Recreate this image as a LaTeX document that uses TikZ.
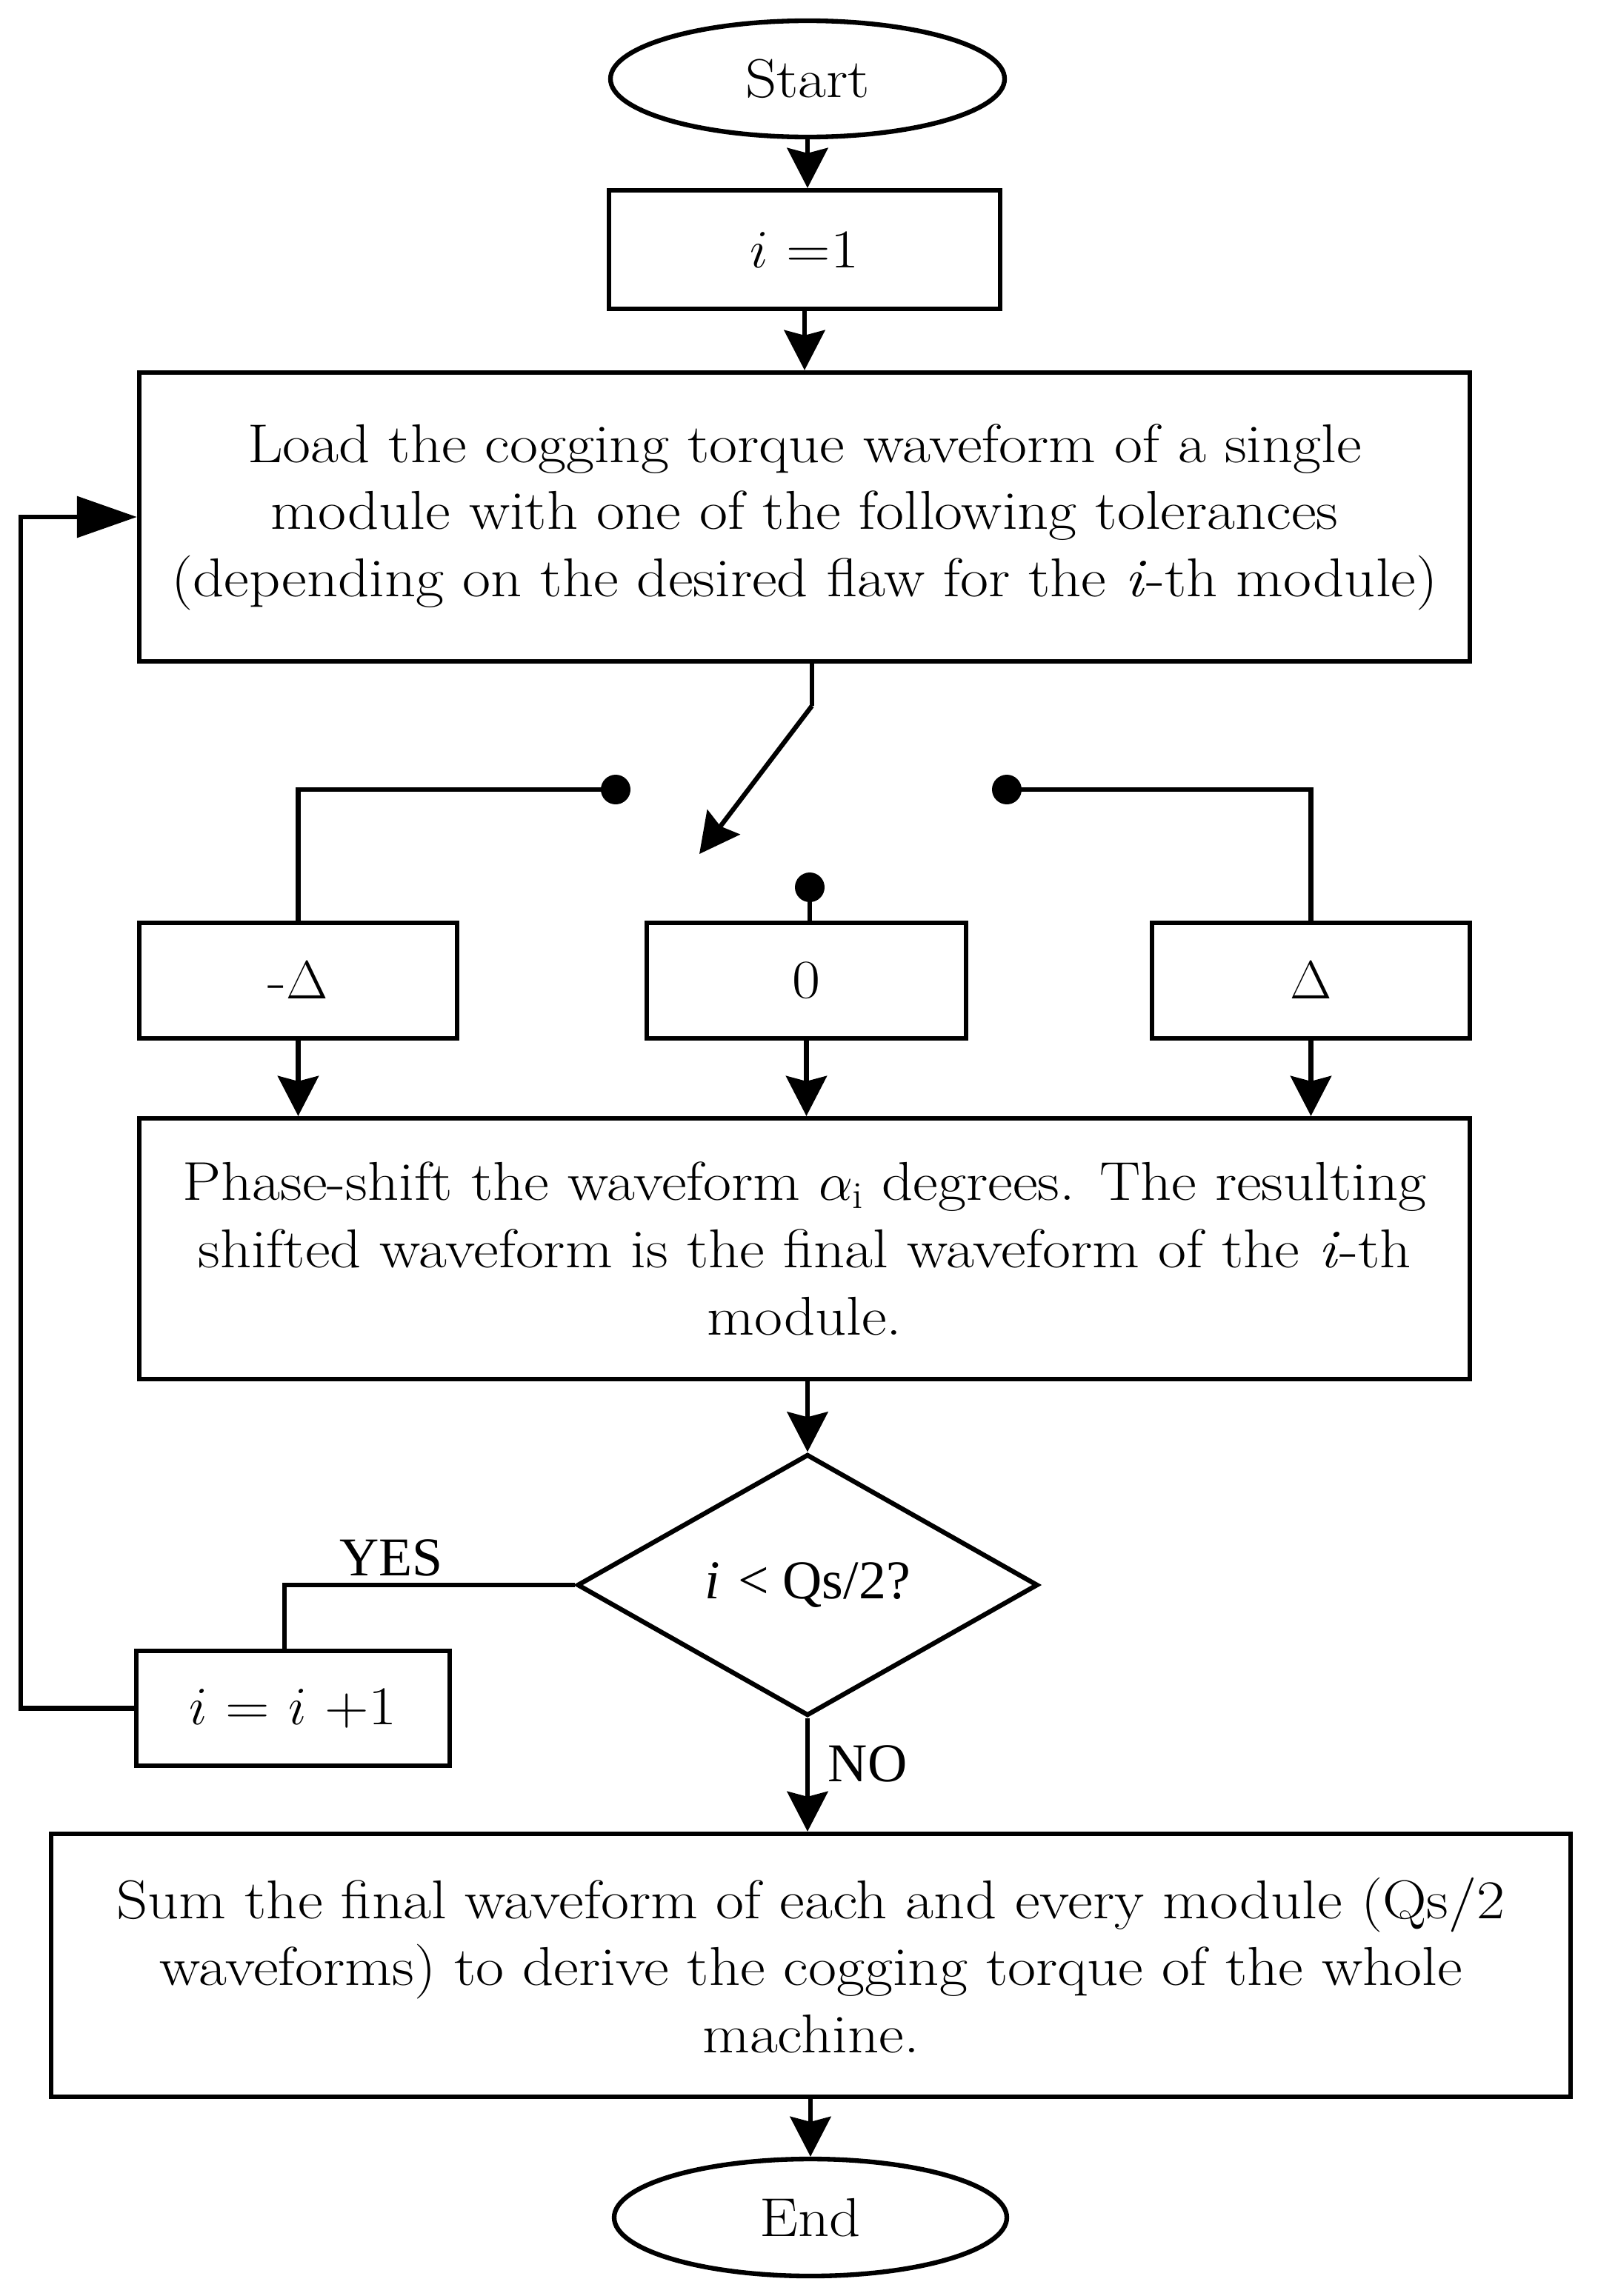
\documentclass[tikz,border=0pt]{standalone}
\usepackage{fontspec}
\setmainfont{Latin Modern Roman}[FakeStretch=1.12]
\newfontfamily\timesfont{Liberation Serif}
\usetikzlibrary{shapes.geometric,arrows.meta}
\tikzset{
	every node/.style={font=\fontsize{21}{25.8}\selectfont},
	stepbox/.style={draw,line width=1.8pt,rectangle,inner sep=0pt,align=center},
	terminal/.style={draw,line width=1.8pt,ellipse,inner sep=0pt,minimum width=5.32cm,minimum height=1.57cm},
	decision/.style={draw,line width=1.8pt,diamond,inner sep=0pt,minimum width=6.22cm,minimum height=3.53cm},
	flow/.style={line width=1.8pt,-{Stealth[length=0.54cm,width=0.55cm,inset=0.07cm]}},
	link/.style={line width=1.8pt},
}
\begin{document}
\begin{tikzpicture}
	\useasboundingbox (0,0) rectangle (21.57,-31);
	% blocks
	\node[terminal] (start) at (10.90,-1.065) {Start};
	\node[stepbox,minimum width=5.28cm,minimum height=1.60cm] (init) at (10.86,-3.37) {$i$ =1};
	\node[stepbox,minimum width=17.96cm,minimum height=3.90cm] (load) at (10.86,-6.98)
		{Load the cogging torque waveform of a single\\
		module with one of the following tolerances\\
		(depending on the desired flaw for the \textit{i}-th module)};
	\node[stepbox,minimum width=4.29cm,minimum height=1.56cm] (minus) at (4.025,-13.24) {-$\Delta$};
	\node[stepbox,minimum width=4.31cm,minimum height=1.56cm] (zero) at (10.885,-13.24) {0};
	\node[stepbox,minimum width=4.29cm,minimum height=1.56cm] (plus) at (17.695,-13.24) {$\Delta$};
	\node[stepbox,minimum width=17.96cm,minimum height=3.52cm] (phase) at (10.86,-16.86)
		{Phase-shift the waveform $\alpha_{\mathrm{i}}$ degrees. The resulting\\
		shifted waveform is the final waveform of the \textit{i}-th\\
		module.};
	\node[decision] (cond) at (10.90,-21.40) {{\timesfont\itshape i} {\timesfont < Qs/2?}};
	\node[stepbox,minimum width=4.23cm,minimum height=1.55cm] (inc) at (3.955,-23.065) {$i$ = $i$ +1};
	\node[stepbox,minimum width=20.51cm,minimum height=3.55cm] (sum) at (10.945,-26.535)
		{Sum the final waveform of each and every module (Qs/2\\
		waveforms) to derive the cogging torque of the whole\\
		machine.};
	\node[terminal,minimum width=5.30cm,minimum height=1.58cm] (end) at (10.94,-29.94) {End};
	% switch
	\coordinate (bend) at (10.96,-9.53);
	\coordinate (tip) at (9.44,-11.53);
	\coordinate (dotl) at (8.31,-10.66);
	\coordinate (dotr) at (13.59,-10.66);
	\coordinate (dotm) at (10.93,-11.98);
	\coordinate (yes) at (3.84,-21.40);
	\coordinate (loop) at (0.28,-23.065);
	% connectors
	\draw[flow] (start.south) -- (start.south |- init.north);
	\draw[flow] (init.south) -- (init.south |- load.north);
	\draw[link] (bend |- load.south) -- (bend);
	\draw[flow] (bend) -- (tip);
	\path[fill] (dotl) circle (0.2);
	\path[fill] (dotr) circle (0.2);
	\path[fill] (dotm) circle (0.2);
	\draw[link] (dotl) -| (minus.north);
	\draw[link] (dotr) -| (plus.north);
	\draw[link] (dotm) -- (dotm |- zero.north);
	\foreach \b in {minus,zero,plus}
		\draw[flow] (\b.south) -- (\b.south |- phase.north);
	\draw[flow] (phase.south -| cond.north) -- (cond.north);
	\draw[link] (cond.west) -- (yes) -- (yes |- inc.north);
	\node (yeslabel) at (5.28,-21.03) {\timesfont YES};
	\draw[line width=1.8pt,-{Triangle[length=0.81cm,width=0.55cm]}] (inc.west) -- (loop) |- (load.west);
	\draw[flow] (cond.south) -- (cond.south |- sum.north);
	\node (nolabel) at (11.71,-23.81) {\timesfont NO};
	\draw[flow] (end.north |- sum.south) -- (end.north);
\end{tikzpicture}
\end{document}
